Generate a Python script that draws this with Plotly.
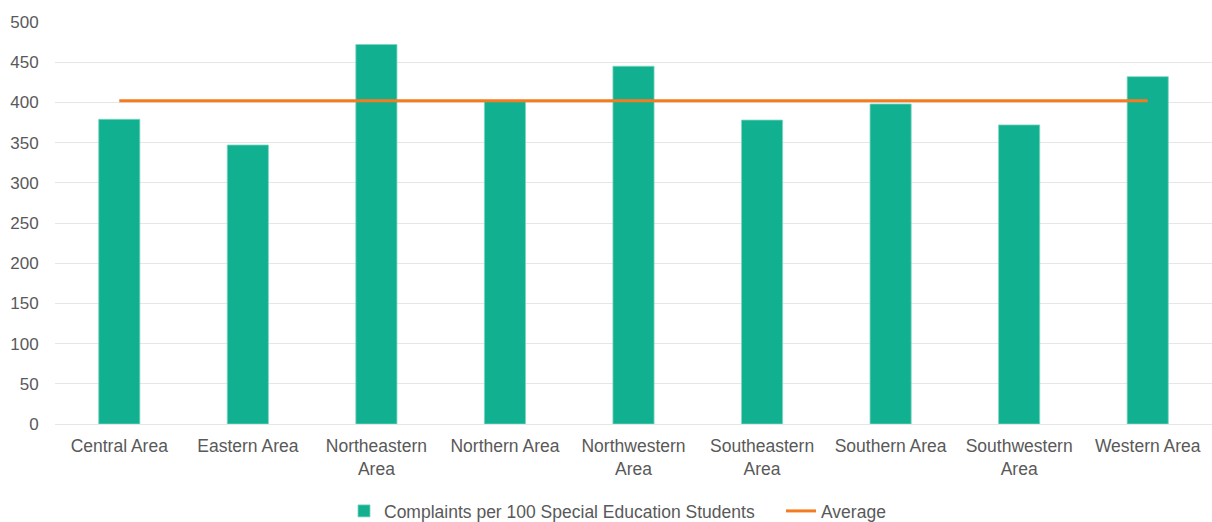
import plotly.graph_objects as go

categories = ["Central Area", "Eastern Area", "Northeastern<br>Area", "Northern Area",
              "Northwestern<br>Area", "Southeastern<br>Area", "Southern Area",
              "Southwestern<br>Area", "Western Area"]
complaints = [379, 347, 472, 401, 445, 378, 398, 372, 432]
average = [402] * len(categories)

fig = go.Figure()
fig.add_trace(go.Bar(
    x=categories, y=complaints,
    name="Complaints per 100 Special Education Students",
    marker=dict(color="#10B090", line=dict(color="#7fd6c0", width=0.8)),
))
fig.add_trace(go.Scatter(
    x=categories, y=average, name="Average", mode="lines",
    line=dict(color="#F47B20", width=3),
))

fig.update_layout(
    width=1212, height=522,
    margin=dict(l=55, r=0, t=22, b=98, autoexpand=False),
    plot_bgcolor="white", paper_bgcolor="white",
    font=dict(family="Liberation Sans, Arial, sans-serif", size=17.5, color="#595959"),
    bargap=0.68,
    showlegend=True,
    legend=dict(orientation="h", xref="container", x=(352 - 8) / 1212, xanchor="left",
                yref="container", y=0.021, yanchor="middle",
                font=dict(size=17.5, color="#595959"), traceorder="normal",
                itemwidth=30, entrywidth=392, entrywidthmode="pixels"),
    xaxis=dict(showgrid=False, showline=False, ticks="outside", ticklen=6,
               tickcolor="rgba(0,0,0,0)", tickfont=dict(size=17.5), automargin=False),
    yaxis=dict(range=[0, 500], dtick=50, showgrid=True, gridcolor="#e6e6e6",
               gridwidth=1, zeroline=True, zerolinecolor="#e6e6e6", zerolinewidth=1,
               showline=False, ticks="outside", ticklen=12, tickcolor="rgba(0,0,0,0)",
               tickfont=dict(size=17), automargin=False),
)

fig.write_html("out.html")
